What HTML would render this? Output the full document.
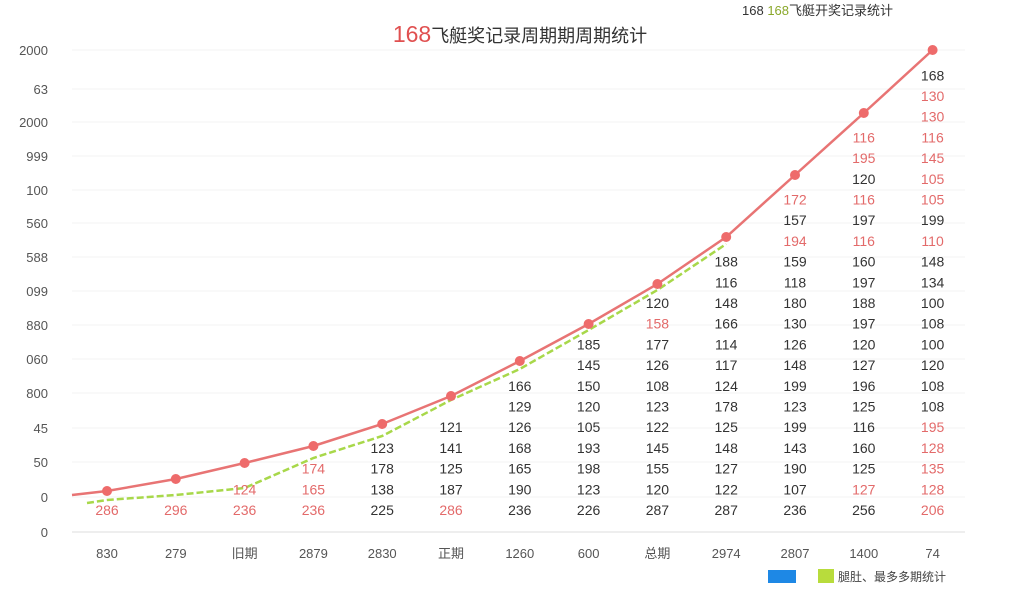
<!DOCTYPE html>
<html><head><meta charset="utf-8">
<style>
body{margin:0;width:1024px;height:600px;background:#fff;overflow:hidden;font-family:"Liberation Sans","Noto Sans CJK SC",sans-serif;}
svg text{font-family:"Liberation Sans","Noto Sans CJK SC",sans-serif;}
</style></head>
<body>
<svg id="chart" width="1024" height="600">
<text x="520" y="42" text-anchor="middle"><tspan fill="#e05050" font-size="23">168</tspan><tspan fill="#333" font-size="18">飞艇奖记录周期期周期统计</tspan></text>
<text x="742" y="15" font-size="13" fill="#333">168 <tspan fill="#8aa82a">168</tspan>飞艇开奖记录统计</text>
<g id="grid"></g><g id="yax"></g><g id="xax"></g><g id="series"></g><g id="labels"></g>
<rect x="768" y="570" width="28" height="13" fill="#1e88e5"/>
<rect x="818" y="569" width="16" height="14" fill="#b8dc3c"/>
<text x="838" y="581" font-size="12" fill="#444">腿肚、最多多期统计</text>
</svg>
<script>
const categories=["830","279","旧期","2879","2830","正期","1260","600","总期","2974","2807","1400","74"];
const redValues=[41,53,69,86,108,136,171,208,248,295,357,419,482];
const greenValues=[32,37,44,74,96,132,163,202,242,288];
const yTickLabels=["0","0","50","45","800","060","880","099","588","560","100","999","2000","63","2000"];
const yTickValues=[0,35,70,104,139,173,207,241,275,309,342,376,410,443,482];
const columnValues=[
["286r"],["296r"],["124r","236r"],["174r","165r","236r"],
["123","178","138","225"],["121","141","125","187","286r"],
["166","129","126","168","165","190","236"],
["185","145","150","120","105","193","198","123","226"],
["120","158r","177","126","108","123","122","145","155","120","287"],
["188","116","148","166","114","117","124","178","125","148","127","122","287"],
["172r","157","194r","159","118","180","130","126","148","199","123","199","143","190","107","236"],
["116r","195r","120","116r","197","116r","160","197","188","197","120","127","196","125","116","160","125","127r","256"],
["168","130r","130r","116r","145r","105r","105r","199","110r","148","134","100","108","100","120","108","108","195r","128r","135r","128r","206r"]
];
const NS="http://www.w3.org/2000/svg";
const x0=107,dx=68.8,yBase=532,yScale=1.0;
const X=i=>x0+i*dx, Y=v=>yBase-v*yScale;
function mk(t,a,p){const e=document.createElementNS(NS,t);for(const k in a)e.setAttribute(k,a[k]);p.appendChild(e);return e;}
const grid=document.getElementById('grid'),yax=document.getElementById('yax'),xax=document.getElementById('xax'),ser=document.getElementById('series'),lab=document.getElementById('labels');
yTickValues.forEach((v,i)=>{
 const l=mk('line',{x1:72,x2:965,y1:Y(v),y2:Y(v),stroke:i==0?'#ddd':'#f3f3f3','stroke-width':1},grid);
 
 
 const t=mk('text',{x:48,y:Y(v)+5,'text-anchor':'end','font-size':13,fill:'#555'},yax);
 t.textContent=yTickLabels[i];
 
 
});
categories.forEach((c,i)=>{
 const t=mk('text',{x:X(i),y:558,'text-anchor':'middle','font-size':13,fill:'#555'},xax);
 t.textContent=c;
 
 
});
const gp=greenValues.map((v,i)=>(i==0?'M'+(X(0)-20)+','+(Y(v)+3)+' L':'L')+X(i)+','+Y(v)).join(' ');
const g=mk('path',{d:gp,fill:'none',stroke:'#a8d84a','stroke-width':2.5,'stroke-dasharray':'7,3'},ser);


const rp='M72,'+(Y(redValues[0])+4)+' '+redValues.map((v,i)=>'L'+X(i)+','+Y(v)).join(' ');
const r=mk('path',{d:rp,fill:'none',stroke:'#e87474','stroke-width':2.5},ser);


redValues.forEach((v,i)=>{
 const c=mk('circle',{cx:X(i),cy:Y(v),r:5,fill:'#ee6b6b'},ser);
 
 
});
columnValues.forEach((col,i)=>{
 const n=col.length;
 col.forEach((s,j)=>{
  const red=s.endsWith('r');
  const t=mk('text',{x:X(i),y:515-(n-1-j)*20.7,'text-anchor':'middle','font-size':14,fill:red?'#e36a6a':'#333'},lab);
  t.textContent=s.replace('r','');
  
  
 });
});
</script>
</body></html>
